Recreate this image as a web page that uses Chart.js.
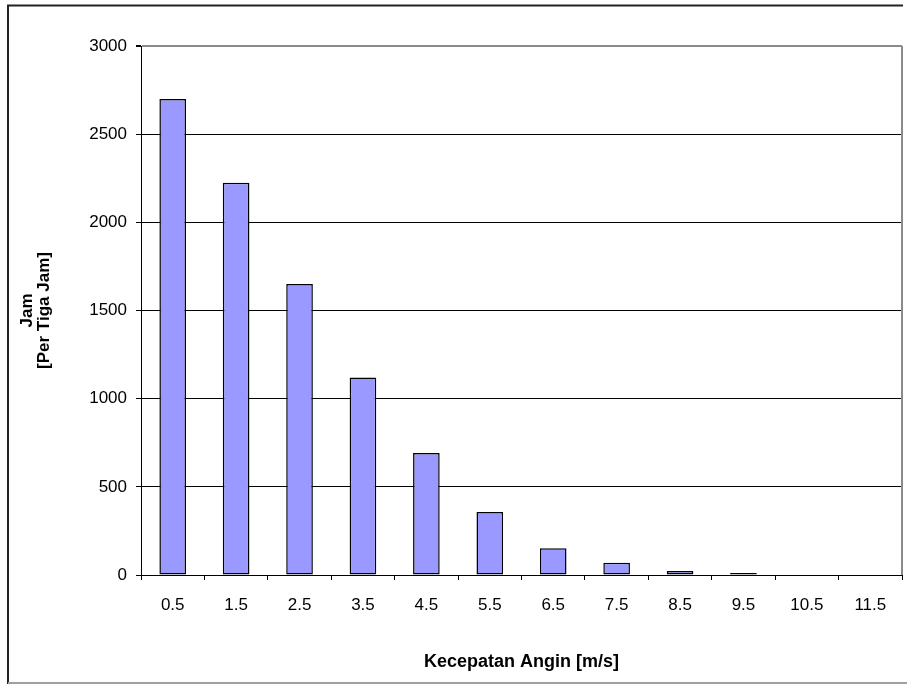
<!DOCTYPE html>
<html>
<head>
<meta charset="utf-8">
<script src="https://cdn.jsdelivr.net/npm/chart.js@4/dist/chart.umd.min.js"></script>
<style>
  html, body { margin: 0; padding: 0; background: #fff; }
  #wrap { width: 907px; height: 684px; position: relative; }
</style>
</head>
<body>
<div id="wrap"><canvas id="c" width="907" height="684"></canvas></div>
<script>
// Wind speed classes (m/s, bin centres)
const speedClasses = ['0.5', '1.5', '2.5', '3.5', '4.5', '5.5', '6.5', '7.5', '8.5', '9.5', '10.5', '11.5'];
// Hours counted per class (three-hourly observations)
const hoursPerClass = [2700, 2225, 1650, 1120, 692, 357, 152, 69, 22, 11, 0, 0];
// Value axis range
const yMin = 0;
const yMax = 3000;
const yStep = 500;

const FONT = "'Liberation Sans', Arial, sans-serif";

// Frame around the whole chart and the grey border of the plot area
const framePlugin = {
  id: 'frame',
  afterDraw(chart) {
    const ctx = chart.ctx;
    const a = chart.chartArea;
    ctx.save();
    // plot area right edge
    ctx.strokeStyle = '#8a8a8a';
    ctx.lineWidth = 2;
    ctx.beginPath();
    ctx.moveTo(a.right, a.top);
    ctx.lineTo(a.right, a.bottom);
    ctx.stroke();
    // outer frame: dark top/left, light bottom
    ctx.strokeStyle = '#222';
    ctx.lineWidth = 2;
    ctx.beginPath();
    ctx.moveTo(8, 684);
    ctx.lineTo(8, 5.5);
    ctx.lineTo(903, 5.5);
    ctx.stroke();
    ctx.strokeStyle = '#a0a0a0';
    ctx.beginPath();
    ctx.moveTo(8, 683);
    ctx.lineTo(907, 683);
    ctx.stroke();
    ctx.restore();
  }
};

new Chart(document.getElementById('c'), {
  type: 'bar',
  data: {
    labels: speedClasses,
    datasets: [{
      data: hoursPerClass,
      backgroundColor: '#9999ff',
      borderColor: '#000000',
      borderWidth: 1.5,
      borderSkipped: false,
      barPercentage: 0.42,
      categoryPercentage: 1.0
    }]
  },
  options: {
    responsive: false,
    animation: false,
    layout: { padding: { left: 8, top: 46, right: 5, bottom: 0 } },
    plugins: {
      legend: { display: false },
      tooltip: { enabled: false }
    },
    scales: {
      x: {
        afterFit(s) { s.height = 109; },
        grid: {
          offset: true,
          drawOnChartArea: false,
          drawTicks: true,
          tickLength: 5,
          tickColor: '#000',
          lineWidth: 1
        },
        border: { display: true, color: '#000', width: 1 },
        ticks: {
          color: '#000',
          font: { family: FONT, size: 17 },
          padding: 15,
          maxRotation: 0,
          autoSkip: false
        },
        title: {
          display: true,
          text: 'Kecepatan Angin [m/s]',
          color: '#000',
          font: { family: FONT, size: 18, weight: 'bold' },
          padding: { top: 0, bottom: 11 }
        }
      },
      y: {
        min: yMin,
        max: yMax,
        afterFit(s) { s.width = 133; },
        grid: {
          color: (c) => (c.tick && c.tick.value === yMax) ? '#8a8a8a' : '#000',
          lineWidth: (c) => (c.tick && c.tick.value === yMax) ? 2 : 1,
          drawTicks: true,
          tickLength: 5,
          tickColor: '#000'
        },
        border: { display: true, color: '#000', width: 1 },
        ticks: {
          stepSize: yStep,
          color: '#000',
          font: { family: FONT, size: 17 },
          padding: 9,
          callback: (v) => String(v)
        },
        title: {
          display: true,
          text: ['Jam', '[Per Tiga Jam]'],
          color: '#000',
          font: { family: FONT, size: 17, weight: 'bold', lineHeight: 1.0 },
          padding: { top: 11, bottom: 0 }
        }
      }
    }
  },
  plugins: [framePlugin]
});
</script>
</body>
</html>
